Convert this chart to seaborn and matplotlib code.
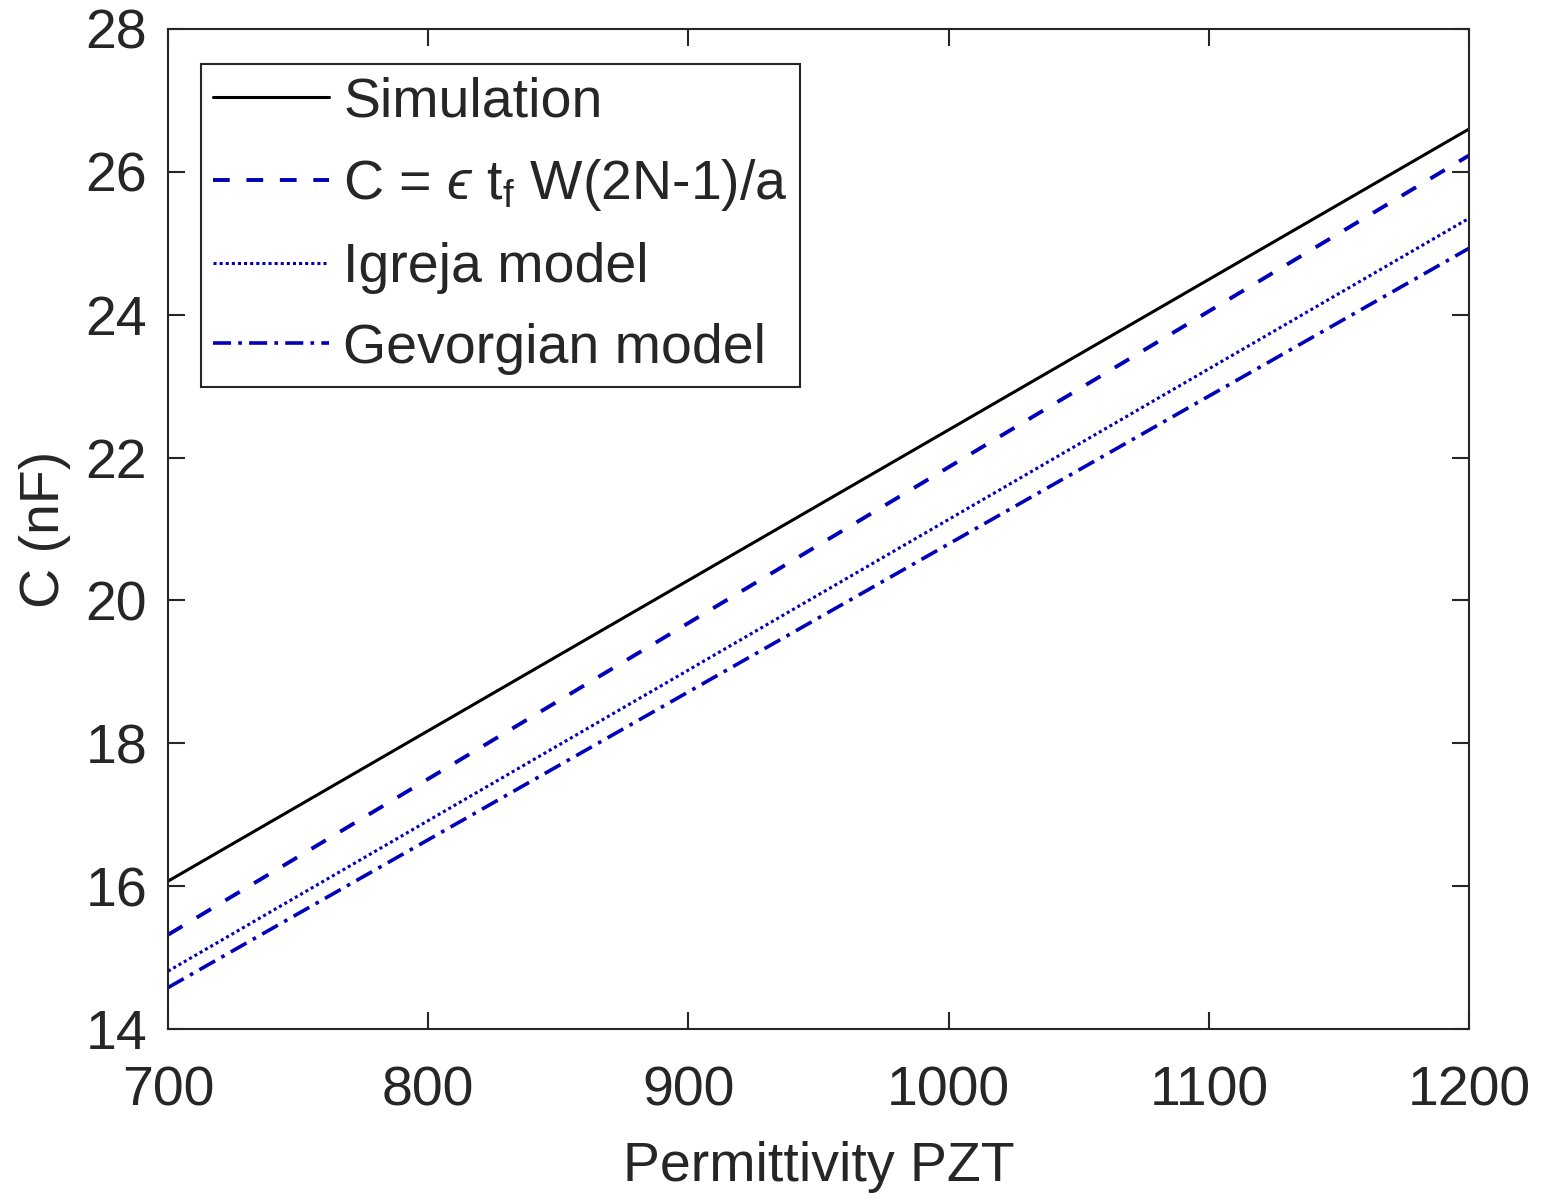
import matplotlib
matplotlib.use("Agg")
import matplotlib.pyplot as plt
import seaborn as sns
import pandas as pd

permittivity = [700, 1200]
simulation = [16.07, 26.60]
parallel_plate = [15.32, 26.23]
igreja = [14.81, 25.35]
gevorgian = [14.58, 24.93]

labels = ["Simulation", "C = $ϵ$ t$_{\\mathrm{f}}$ W(2N-1)/a", "Igreja model", "Gevorgian model"]
series = [simulation, parallel_plate, igreja, gevorgian]

rows = []
for lab, vals in zip(labels, series):
    for x, y in zip(permittivity, vals):
        rows.append({"x": x, "y": y, "model": lab})
df = pd.DataFrame(rows)

sns.set_style("ticks")
plt.rcParams["font.family"] = ["Liberation Sans", "DejaVu Sans"]
plt.rcParams["mathtext.fontset"] = "custom"
plt.rcParams["mathtext.rm"] = "Liberation Sans"
plt.rcParams["mathtext.it"] = "Liberation Sans:italic"
plt.rcParams["mathtext.fallback"] = "cm"

fig = plt.figure(figsize=(15.47, 12.03), dpi=100)
ax = fig.add_axes([0.1086, 0.1446, 0.8410, 0.8313])

blue = "#0000BB"
colors = ["black", blue, blue, blue]
styles = ["-", (0, (4.3, 4.3)), (0, (1, 1)), (0, (5, 2, 1, 2))]
widths = [2.2, 2.8, 2.2, 2.6]
for lab, c, ls, lw in zip(labels, colors, styles, widths):
    sns.lineplot(data=df[df["model"] == lab], x="x", y="y", ax=ax, color=c,
                 linestyle=ls, linewidth=lw, label=lab)

ax.set_xlim(700, 1200)
ax.set_ylim(14, 28)
ax.set_xticks([700, 800, 900, 1000, 1100, 1200])
ax.set_yticks([14, 16, 18, 20, 22, 24, 26, 28])
ax.tick_params(direction="in", length=12, width=1.5, labelsize=40, colors="#262626",
               top=True, right=True)
ax.tick_params(axis="x", pad=26)
ax.tick_params(axis="y", pad=15)
for s in ax.spines.values():
    s.set_visible(True)
    s.set_color("#262626")
    s.set_linewidth(1.5)
ax.set_xlabel("Permittivity PZT", fontsize=40, color="#262626", labelpad=17)
ax.set_ylabel("C (nF)", fontsize=40, color="#262626", labelpad=10)

leg = ax.legend(loc="upper left", bbox_to_anchor=(0.025, 0.965), fontsize=40,
                frameon=True, fancybox=False, edgecolor="#262626", framealpha=1,
                handlelength=2.1, handletextpad=0.25, labelspacing=0.52,
                borderpad=0.22, borderaxespad=0)
leg.get_frame().set_linewidth(1.5)

fig.savefig("out.png", dpi=100)
